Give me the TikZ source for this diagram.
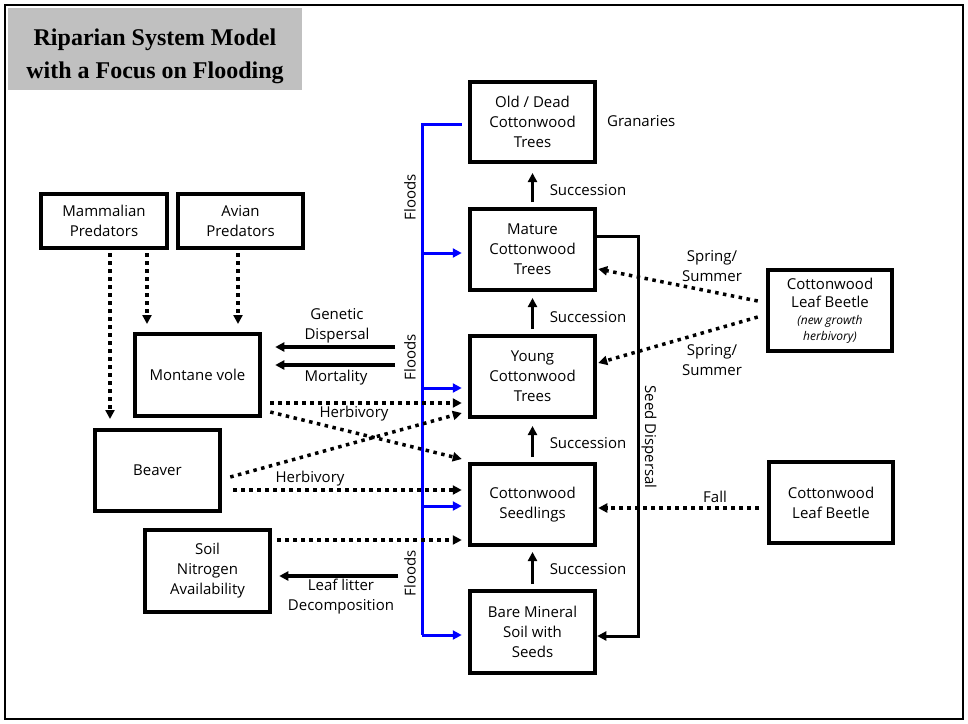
\documentclass[tikz,border=0pt]{standalone}
\usepackage{fontspec}
\setmainfont{Open Sans}
\newfontfamily\titlefont{Liberation Serif}
\usetikzlibrary{arrows.meta,calc}
\definecolor{titlegray}{RGB}{192,192,192}
\definecolor{floodblue}{RGB}{0,0,255}
\newcommand{\smallit}[1]{{\fontsize{12}{15}\selectfont\itshape #1}}
\begin{document}
\begin{tikzpicture}[x=1pt,y=-1pt,
  box/.style={draw,line width=4pt,minimum width=125.5pt,minimum height=81pt,align=center,inner sep=0pt,font=\fontsize{15}{20}\selectfont},
  lbl/.style={align=center,inner sep=0pt,font=\fontsize{15}{20}\selectfont},
  dotarr/.style={line width=3.5pt,dash pattern=on 3.5pt off 4.5pt,-{Triangle[length=9pt,width=9pt]}},
  solarr/.style={line width=3.5pt,-{Triangle[length=9pt,width=9pt]}},
  floodarr/.style={floodblue,line width=3pt,-{Triangle[length=9pt,width=9pt]}},
  floodline/.style={floodblue,line width=3pt},
]
\useasboundingbox (0,0) rectangle (968,723);
\draw[line width=2.2pt] (5,5) rectangle (963,719);
\fill[titlegray] (8,8) rectangle (302,90);
\node[align=center,font=\titlefont\bfseries\fontsize{24}{33}\selectfont] (title) at (155,56) {Riparian System Model\\with a Focus on Flooding};

% boxes
\node[box,minimum height=54pt] (mam) at (104,221) {Mammalian\\Predators};
\node[box,minimum height=54pt,minimum width=125pt] (avi) at (240.5,221) {Avian\\Predators};
\node[box,minimum height=82pt] (vole) at (197.5,375) {Montane vole};
\node[box] (beaver) at (157.5,470.5) {Beaver};
\node[box,minimum height=82pt] (soil) at (207.5,571) {Soil\\Nitrogen\\Availability};
\node[box,minimum height=80pt] (old) at (532.5,122) {Old / Dead\\Cottonwood\\Trees};
\node[box] (mature) at (532.5,249.5) {Mature\\Cottonwood\\Trees};
\node[box] (young) at (532.5,376.5) {Young\\Cottonwood\\Trees};
\node[box] (seed) at (532.5,504.5) {Cottonwood\\Seedlings};
\node[box,minimum height=82pt] (bare) at (532.5,632) {Bare Mineral\\Soil with\\Seeds};
\node[box,minimum width=124.5pt] (beetle1) at (830,310.5) {Cottonwood\\[-2pt]Leaf Beetle\\[-3pt]\smallit{(new growth}\\[-4pt]\smallit{herbivory)}};
\node[box,minimum width=124.5pt] (beetle2) at (831,502.5) {Cottonwood\\Leaf Beetle};

% predator arrows
\draw[dotarr,shorten >=9pt,shorten <=3pt] ([xshift=6pt]mam.south) -- ([xshift=6pt]mam.south |- beaver.north);
\draw[dotarr,shorten >=8pt,shorten <=3pt] ([xshift=43pt]mam.south) -- ([xshift=43pt]mam.south |- vole.north);
\draw[dotarr,shorten >=8pt,shorten <=3pt] ([xshift=-2.5pt]avi.south) -- ([xshift=-2.5pt]avi.south |- vole.north);

% floods
\coordinate (ftop) at (422,124);
\coordinate (fbot) at (422,635);
\draw[floodline] ([xshift=-6pt]ftop -| old.west) -- (ftop) -- (fbot);
\coordinate (fm) at ([yshift=-3.5pt]ftop |- mature.west);
\coordinate (fy) at ([yshift=-11.5pt]ftop |- young.west);
\coordinate (fs) at ([yshift=-1.5pt]ftop |- seed.west);
\draw[floodarr,shorten >=6pt] (fm) -- (fm -| mature.west);
\draw[floodarr,shorten >=6pt] (fy) -- (fy -| young.west);
\draw[floodarr,shorten >=6pt] (fs) -- (fs -| seed.west);
\draw[floodarr,shorten >=6pt] (fbot) -- (fbot -| bare.west);
\node[lbl,rotate=90] (fl1) at (410,197) {Floods};
\node[lbl,rotate=90] (fl2) at (410,357) {Floods};
\node[lbl,rotate=90] (fl3) at (410,573) {Floods};

% vole interactions
\coordinate (gd) at (395,347);
\coordinate (mo) at (395,365);
\draw[solarr,shorten >=13pt] (gd) -- (gd -| vole.east);
\draw[solarr,shorten >=13pt] (mo) -- (mo -| vole.east);
\node[lbl] (gdl) at (337,326) {Genetic\\Dispersal};
\node[lbl] (mol) at (336,378) {Mortality};

\coordinate (vh1) at ([xshift=8pt,yshift=-28pt]vole.east);
\coordinate (vh2) at ([xshift=8pt,yshift=-37pt]vole.east);
\draw[dotarr,shorten >=6pt] (vh1) -- (vh1 -| young.west);
\draw[dotarr] (vh2) -- ([xshift=-6pt,yshift=45.5pt]seed.west);
\node[lbl] (h1l) at (354,414) {Herbivory};

\coordinate (bh1) at ([xshift=8pt,yshift=-6.5pt]beaver.east);
\coordinate (bh2) at ([xshift=11pt,yshift=-19.5pt]beaver.east);
\draw[dotarr] (bh1) -- ([xshift=-6pt,yshift=-36.5pt]young.west);
\draw[dotarr,shorten >=6pt] (bh2) -- (bh2 -| seed.west);
\node[lbl] (h2l) at (310,479) {Herbivory};

\coordinate (sn) at ([xshift=5pt,yshift=31pt]soil.east);
\draw[dotarr,shorten >=6pt] (sn) -- (sn -| seed.west);
\coordinate (ll) at (398,576);
\draw[solarr,shorten >=7pt] (ll) -- (ll -| soil.east);
\node[lbl] (lll) at (341,597) {Leaf litter\\Decomposition};

% succession
\draw[solarr,shorten <=5pt,shorten >=9pt] (mature.north) -- (old.south);
\draw[solarr,shorten <=5pt,shorten >=6pt] (young.north) -- (mature.south);
\draw[solarr,shorten <=5pt,shorten >=7pt] (seed.north) -- (young.south);
\draw[solarr,shorten <=5pt,shorten >=5pt] (bare.north) -- (seed.south);
\node[lbl] (s1) at (588,190) {Succession};
\node[lbl] (s2) at (588,317) {Succession};
\node[lbl] (s3) at (588,443) {Succession};
\node[lbl] (s4) at (588,569) {Succession};
\node[lbl,anchor=west] (gran) at (607,121) {Granaries};

% seed dispersal
\coordinate (sd1) at (638,236);
\coordinate (sd2) at (638,636);
\draw[line width=3pt,-{Triangle[length=9pt,width=9pt]}] (sd1 -| mature.east) -- (sd1) -- (sd2) -- (sd2 -| bare.east);
\node[lbl,rotate=-90] (sdl) at (649,437) {Seed Dispersal};

% beetle arrows
\draw[dotarr] ([xshift=-8pt,yshift=9.5pt]beetle1.west) -- ([xshift=1pt,yshift=-19.5pt]mature.east);
\draw[dotarr] ([xshift=-8pt,yshift=-6.5pt]beetle1.west) -- ([xshift=1pt,yshift=13.5pt]young.east);
\node[lbl] (ss1) at (712,266) {Spring/\\Summer};
\node[lbl] (ss2) at (712,360) {Spring/\\Summer};
\coordinate (fa) at ([xshift=-8pt,yshift=-5.5pt]beetle2.west);
\draw[dotarr,shorten >=1pt] (fa) -- (fa -| seed.east);
\node[lbl] (fal) at (715,497) {Fall};
\end{tikzpicture}
\end{document}
